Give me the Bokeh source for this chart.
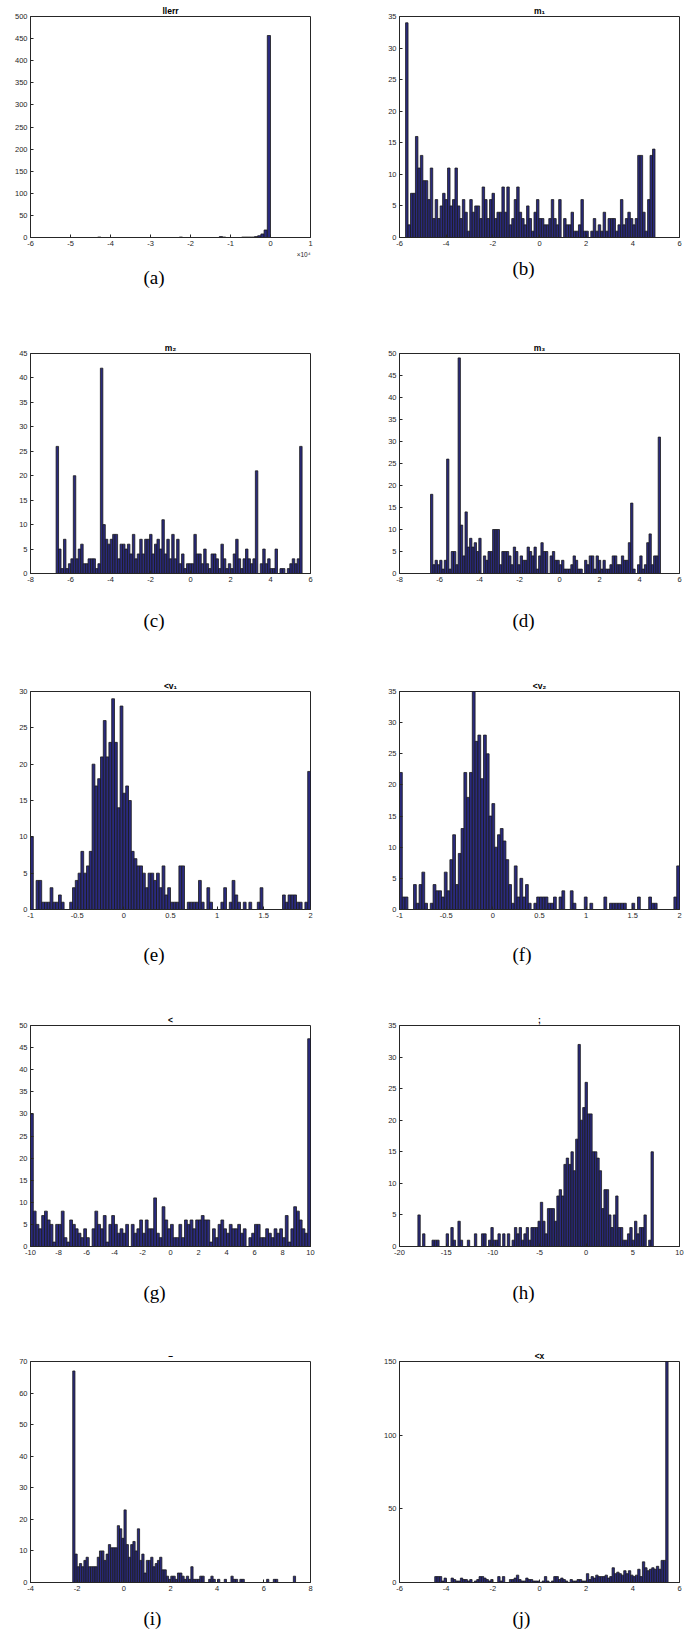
import numpy as np
from bokeh.plotting import figure
from bokeh.models import Range1d, FixedTicker, Title
from bokeh.layouts import column, row
from bokeh.embed import file_html
from bokeh.resources import INLINE

# ---------------- data ----------------
# (a) llerr  (x in units of 1e4)
a_centers = [-4.28, -2.24, -1.24, -1.16, -0.68, -0.60, -0.52, -0.44, -0.36, -0.28, -0.20, -0.12, -0.04]
a_counts = [1, 1, 2, 1, 1, 1, 1, 1, 2, 4, 8, 17, 457]
a_binwidth = 0.08

b_range = (-5.74, 4.95)
b_counts = [34,2,7,7,16,11,13,9,9,6, 11,3,6,3,5,7,6,11,5,6, 11,5,3,6,4,1,6,4,5,5,
            3,8,6,3,6,7,3,4,4,8, 4,8,2,3,6,8,4,3,2,5, 3,1,4,6,3,3,2,2,3,6,
            3,2,6,0,3,2,2,4,1,1, 2,6,1,1,0,1,3,1,2,1, 4,1,3,3,3,1,2,6,2,3,
            4,3,2,3,13,13,4,1,6,13, 14]

c_range = (-6.72, 5.58)
c_counts = [26,5,1,7,1,2,3,20,3,5, 6,2,2,3,3,3,1,2,42,10, 7,6,7,8,8,3,6,6,5,6,
            4,8,3,4,7,4,7,7,8,4, 6,7,5,11,4,7,3,8,3,7, 2,4,1,2,2,2,8,4,4,2,
            5,2,1,4,4,3,1,6,3,1, 2,1,4,7,3,1,3,5,3,2, 3,21,0,2,5,2,3,1,1,5,
            0,1,1,0,1,2,3,2,3,26]

d_range = (-6.45, 5.05)
d_counts = [18,2,3,2,3,1,3,26,1,5, 5,2,49,11,4,14,6,8,6,7, 5,8,0,4,3,5,5,10,10,10,
            2,5,5,5,4,2,6,5,2,4, 3,3,6,5,4,6,1,4,7,5, 5,0,4,5,3,3,2,3,1,1,
            1,2,4,3,1,1,0,3,2,4, 4,1,4,3,1,3,1,1,2,4, 4,2,2,4,3,3,7,16,1,0,
            2,4,1,2,7,9,2,4,4,31]

e_range = (-1.0, 2.0)
e_counts = [10,0,4,4,1,1,1,3,1,1, 2,1,0,0,1,3,4,5,8,5, 6,8,20,17,18,21,26,21,23,29,
            23,14,28,16,17,15,8,7,6,6, 5,3,5,5,4,5,3,6,2,3, 1,1,1,6,6,0,1,1,1,1,
            4,1,0,3,1,0,0,0,1,3, 0,1,4,2,1,0,1,0,1,0, 0,1,3,0,0,0,0,0,0,0,
            2,1,2,2,2,1,1,0,1,19]

f_range = (-1.0, 2.0)
f_counts = [22,2,2,0,0,4,1,4,6,1, 0,1,4,3,3,2,6,3,8,12, 4,9,13,22,18,22,35,27,28,21,
            28,25,15,17,10,12,13,11,8,4, 1,7,2,5,2,4,1,0,1,2, 2,2,2,1,1,2,0,2,3,0,
            0,3,1,0,0,0,2,0,1,0, 0,0,0,2,0,1,1,1,1,1, 1,0,0,1,0,2,0,0,0,2,
            1,1,0,0,0,0,0,0,2,7]

g_range = (-10.0, 10.0)
g_counts = [30,8,5,4,7,8,6,5,1,5, 5,8,2,1,6,5,4,3,2,4, 2,0,4,8,5,4,7,1,5,7,
            5,3,4,3,5,0,5,3,4,6, 3,6,4,4,11,3,2,9,6,4, 5,2,2,5,2,6,5,6,4,6,
            6,7,6,6,1,4,2,5,6,4, 3,5,4,4,5,3,4,0,2,3, 5,5,2,2,4,3,2,4,3,4,
            2,7,1,4,9,8,6,4,3,47]

h_range = (-18.03, 7.2)
h_counts = [5,0,2,0,0,0,1,1,1,0, 0,0,2,0,3,1,0,4,1,0, 0,1,0,0,2,0,0,2,2,0,
            1,3,1,1,2,0,2,0,2,0, 1,3,2,3,1,2,3,1,3,3, 3,4,7,4,2,6,6,6,4,8,
            9,8,13,14,13,15,12,17,32,20, 22,26,21,21,15,15,14,12,6,9, 9,5,3,5,8,3,3,1,1,2,
            3,1,4,2,3,3,5,0,1,15]

i_range = (-2.19, 7.36)
i_counts = [67,9,5,6,5,7,8,5,5,5, 5,8,10,10,7,9,12,11,11,11, 18,17,14,23,12,8,12,13,10,17,
            7,9,3,7,7,8,5,6,7,8, 4,4,2,1,2,2,1,3,3,2, 1,2,1,5,1,1,1,2,2,0,
            0,1,2,1,0,1,0,0,1,0, 0,2,1,1,0,1,1,0,0,0, 0,0,0,0,0,0,0,1,0,0,
            1,1,0,0,0,0,0,0,0,2]

j_range = (-4.49, 5.51)
j_counts = [4,4,4,1,3,0,0,3,2,1, 1,3,2,2,1,2,0,1,2,4, 4,3,2,1,2,0,0,4,1,4,
            0,0,2,2,3,5,2,1,1,3, 2,2,1,1,1,0,1,4,1,0, 1,4,4,2,3,2,1,0,2,1,
            1,2,2,1,1,6, 2,4,3,5,4,4,4,5,3,4, 10,6,7,6,5,8,6,8,5,4,
            5,9,4,14,10,8,9,10,9,11, 9,15,15,150]

titles = ["llerr", "m\u2081", "m\u2082", "m\u2083", "<v\u2081", "<v\u2082", "<", ";", "\u2013", "<x"]
captions = ["(a)", "(b)", "(c)", "(d)", "(e)", "(f)", "(g)", "(h)", "(i)", "(j)"]

x_ranges = [(-6, 1), (-6, 6), (-8, 6), (-8, 6), (-1, 2), (-1, 2), (-10, 10), (-20, 10), (-4, 8), (-6, 6)]
y_max = [500, 35, 45, 50, 30, 35, 50, 35, 70, 150]
x_ticks = [list(range(-6, 2)), list(range(-6, 7, 2)), list(range(-8, 7, 2)), list(range(-8, 7, 2)),
           [-1, -0.5, 0, 0.5, 1, 1.5, 2], [-1, -0.5, 0, 0.5, 1, 1.5, 2],
           list(range(-10, 11, 2)), list(range(-20, 11, 5)), list(range(-4, 9, 2)), list(range(-6, 7, 2))]
y_steps = [50, 5, 5, 5, 5, 5, 5, 5, 10, 50]

# ---------------- styling / layout ----------------
FONT = "Liberation Sans"
AX = "#262626"
FILL = "#2a2a7e"
EDGE = "#1b1b1b"

row_heights = [339, 338, 334, 336, 305]
row_top = [16, 13, 13, 13, 13]
row_bottom = [102, 104, 102, 101, 70]
cap_standoff = [19, 50, 46, 48, 28]


def make_panel(k, left, right, top, extra_below=None):
    r = k // 2
    is_left = (k % 2 == 0)
    w = 342
    bl = 30 if is_left else 57
    br = 32 if is_left else 5
    ymax = y_max[k]
    p = figure(width=w, height=row_heights[r], x_range=Range1d(*x_ranges[k]),
               y_range=Range1d(0, ymax), output_backend="svg", toolbar_location=None,
               min_border_left=bl, min_border_right=br, min_border_top=row_top[r],
               min_border_bottom=row_bottom[r], title=titles[k])
    p.title.align = "center"
    p.title.text_font = FONT
    p.title.text_font_size = "8.5px"
    p.title.text_font_style = "bold"
    p.title.text_color = "#000000"
    p.title.standoff = 2
    p.title.offset = 0
    p.grid.visible = False
    p.outline_line_color = AX
    p.background_fill_color = "white"
    p.border_fill_color = "white"

    p.quad(left=left, right=right, top=top, bottom=0, fill_color=FILL, line_color=EDGE, line_width=0.8)

    yt = list(range(0, ymax + 1, y_steps[k]))
    for ax, ticks in ((p.xaxis[0], x_ticks[k]), (p.yaxis[0], yt)):
        ax.ticker = FixedTicker(ticks=ticks)
        ax.major_tick_in = 3
        ax.major_tick_out = 0
        ax.minor_tick_line_color = None
        ax.axis_line_color = AX
        ax.major_tick_line_color = AX
        ax.major_label_text_font = FONT
        ax.major_label_text_font_size = "7.5px"
        ax.major_label_text_color = AX
        ax.major_label_standoff = 3
    p.xaxis[0].major_label_overrides = {t: f"{t:g}" for t in x_ticks[k]}

    if extra_below is not None:
        p.add_layout(Title(text=extra_below, align="right", text_font=FONT, text_font_size="6.5px",
                           text_font_style="normal", text_color=AX, standoff=0, offset=0), "below")

    p.add_layout(Title(text=captions[k], align="left", offset=113, vertical_align="top",
                       text_font="Liberation Serif", text_font_size="19px",
                       text_font_style="normal", text_color="#000000",
                       standoff=cap_standoff[r]), "below")
    return p


def edges(rng, counts):
    e = np.linspace(rng[0], rng[1], len(counts) + 1)
    return e[:-1], e[1:]


panels = []
a_left = [c - a_binwidth / 2 for c in a_centers]
a_right = [c + a_binwidth / 2 for c in a_centers]
panels.append(make_panel(0, a_left, a_right, a_counts, extra_below="\u00d710\u2074"))

others = [(b_range, b_counts), (c_range, c_counts), (d_range, d_counts), (e_range, e_counts),
          (f_range, f_counts), (g_range, g_counts), (h_range, h_counts), (i_range, i_counts),
          (j_range, j_counts)]
for idx, (rng, cnt) in enumerate(others, start=1):
    l, rr = edges(rng, cnt)
    panels.append(make_panel(idx, l, rr, cnt))

layout = column(*[row(panels[2 * i], panels[2 * i + 1]) for i in range(5)])

open("out.html", "w").write(file_html(layout, INLINE))
